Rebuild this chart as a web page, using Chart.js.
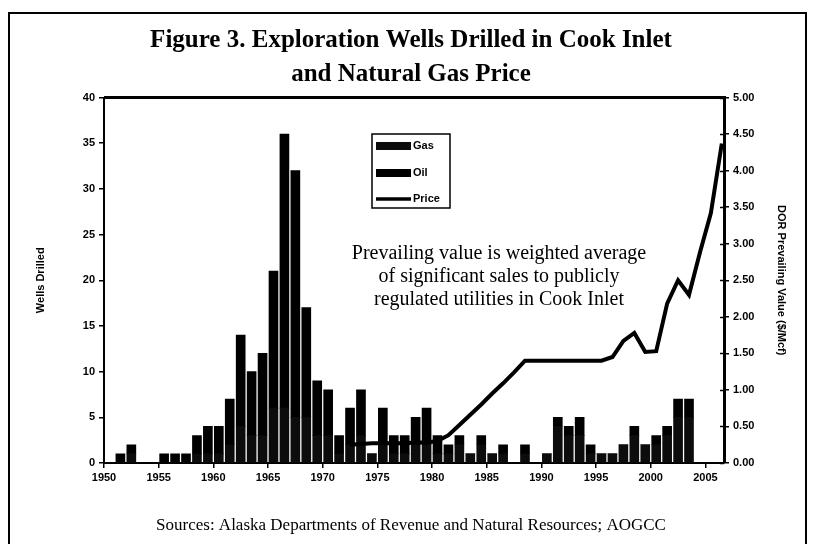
<!DOCTYPE html>
<html>
<head>
<meta charset="utf-8">
<script src="https://cdn.jsdelivr.net/npm/chart.js@4"></script>
<style>
  html, body { margin: 0; padding: 0; background: #fff; }
  #wrap { position: relative; width: 816px; height: 544px; overflow: hidden; }
  #frame { position: absolute; left: 8px; top: 12px; width: 799px; height: 560px; border: 2px solid #000; box-sizing: border-box; }
  canvas { position: absolute; left: 0; top: 0; }
</style>
</head>
<body>
<div id="wrap">
  <div id="frame"></div>
  <canvas id="chartWells" width="816" height="544"></canvas>
</div>
<script>
// wells drilled per year, split gas / oil
const years = [1950, 1951, 1952, 1953, 1954, 1955, 1956, 1957, 1958, 1959,
  1960, 1961, 1962, 1963, 1964, 1965, 1966, 1967, 1968, 1969,
  1970, 1971, 1972, 1973, 1974, 1975, 1976, 1977, 1978, 1979,
  1980, 1981, 1982, 1983, 1984, 1985, 1986, 1987, 1988, 1989,
  1990, 1991, 1992, 1993, 1994, 1995, 1996, 1997, 1998, 1999,
  2000, 2001, 2002, 2003, 2004, 2005, 2006];
const oilWells = [0, 1, 1, 0, 0, 1, 1, 1, 2, 3,
  3, 5, 10, 7, 9, 15, 30, 27, 12, 6,
  5, 2, 4, 5, 0, 4, 2, 2, 3, 4,
  2, 1, 1, 0, 1, 0, 1, 0, 1, 0,
  0, 1, 1, 2, 1, 0, 0, 0, 1, 0,
  1, 1, 2, 2, 0, 0, 0];
const gasWells = [0, 0, 1, 0, 0, 0, 0, 0, 1, 1,
  1, 2, 4, 3, 3, 6, 6, 5, 5, 3,
  3, 1, 2, 3, 1, 2, 1, 1, 2, 2,
  1, 1, 2, 1, 2, 1, 1, 0, 1, 0,
  1, 4, 3, 3, 1, 1, 1, 2, 3, 2,
  2, 3, 5, 5, 0, 0, 0];

// DOR prevailing value, $/Mcf
const priceYears = [1972, 1973, 1974, 1975, 1976, 1977, 1978, 1979, 1980, 1981,
  1982, 1983, 1984, 1985, 1986, 1987, 1988, 1989, 1990, 1991,
  1992, 1993, 1994, 1995, 1996, 1997, 1998, 1999, 2000, 2001,
  2002, 2003, 2004, 2005, 2006];
const prices = [0.25, 0.26, 0.27, 0.27, 0.27, 0.27, 0.28, 0.28, 0.30, 0.38,
  0.52, 0.66, 0.80, 0.95, 1.09, 1.24, 1.40, 1.40, 1.40, 1.40,
  1.40, 1.40, 1.40, 1.40, 1.45, 1.67, 1.78, 1.52, 1.53, 2.18,
  2.50, 2.30, 2.88, 3.42, 4.37];

const xTickYears = [1950, 1955, 1960, 1965, 1970, 1975, 1980, 1985, 1990, 1995, 2000, 2005];
const noteLines = [
  "Prevailing value is weighted average",
  "of significant sales to publicly",
  "regulated utilities in Cook Inlet"
];

const tickFont = { family: "'Liberation Sans', Arial, sans-serif", size: 11, weight: 'bold' };

// legend box, note text and top frame line
const extras = {
  id: 'extras',
  afterDatasetsDraw(chart) {
    const ctx = chart.ctx;
    const area = chart.chartArea;
    ctx.save();
    ctx.strokeStyle = '#000';
    ctx.lineWidth = 3;
    ctx.beginPath();
    ctx.moveTo(area.left, area.top);
    ctx.lineTo(area.right, area.top);
    ctx.stroke();

    // right axis ticks also cross into the plot
    const y1 = chart.scales.y1;
    ctx.lineWidth = 1.5;
    y1.ticks.forEach(t => {
      const py = Math.round(y1.getPixelForValue(t.value)) + 0.5;
      ctx.beginPath();
      ctx.moveTo(area.right - 4, py);
      ctx.lineTo(area.right, py);
      ctx.stroke();
    });

    // note
    ctx.fillStyle = '#000';
    ctx.font = "20px 'Liberation Serif', serif";
    ctx.textAlign = 'center';
    ctx.textBaseline = 'middle';
    noteLines.forEach((t, i) => ctx.fillText(t, 499, 254 + i * 23));

    // legend
    ctx.lineWidth = 1.5;
    ctx.strokeRect(372, 134, 78, 74);
    ctx.font = "bold 11px 'Liberation Sans', Arial, sans-serif";
    ctx.textAlign = 'left';
    const rows = [146, 173, 199];
    chart.data.datasets.forEach((ds, i) => {
      const y = rows[i];
      if (ds.type === 'line') {
        ctx.strokeStyle = ds.borderColor;
        ctx.lineWidth = 3.5;
        ctx.beginPath();
        ctx.moveTo(376, y);
        ctx.lineTo(411, y);
        ctx.stroke();
      } else {
        ctx.fillStyle = ds.backgroundColor;
        ctx.fillRect(376, y - 4, 35, 8);
      }
      ctx.fillStyle = '#000';
      ctx.fillText(ds.label, 413, y);
    });
    ctx.restore();
  }
};

const dataWells = {
  datasets: [
    {
      type: 'bar',
      label: 'Gas',
      data: years.map((y, i) => ({ x: y + 0.5, y: gasWells[i] })),
      backgroundColor: '#0c0c0c',
      grouped: false,
      barThickness: 9,
      yAxisID: 'y',
      order: 2
    },
    {
      type: 'bar',
      label: 'Oil',
      data: years.map((y, i) => ({ x: y + 0.5, y: oilWells[i] })),
      backgroundColor: '#000',
      grouped: false,
      barThickness: 9,
      yAxisID: 'y',
      order: 2
    },
    {
      type: 'line',
      label: 'Price',
      data: priceYears.map((y, i) => ({ x: y + 0.5, y: prices[i] })),
      borderColor: '#000',
      borderWidth: 4,
      pointRadius: 0,
      tension: 0,
      yAxisID: 'y1',
      order: 0
    }
  ]
};

const configWells = {
  type: 'bar',
  data: dataWells,
  plugins: [extras],
  options: {
    responsive: false,
    animation: false,
    layout: { padding: { left: 34, right: 28, top: 0, bottom: 0 } },
    plugins: {
      legend: { display: false },
      tooltip: { enabled: false },
      title: {
        display: true,
        text: ['Figure 3. Exploration Wells Drilled in Cook Inlet', 'and Natural Gas Price'],
        color: '#000',
        font: { family: "'Liberation Serif', serif", size: 25, weight: 'bold', lineHeight: 1.35 },
        padding: { top: 24, bottom: 6 }
      },
      subtitle: {
        display: true,
        position: 'bottom',
        text: 'Sources: Alaska Departments of Revenue and Natural Resources; AOGCC',
        color: '#000',
        font: { family: "'Liberation Serif', serif", size: 17, lineHeight: 1.2 },
        padding: { top: 6, bottom: 8 }
      }
    },
    scales: {
      x: {
        type: 'linear',
        min: 1950,
        max: 2006.7,
        offset: false,
        afterBuildTicks: s => { s.ticks = xTickYears.map(v => ({ value: v })); },
        afterFit: s => { s.height = 46.6; },
        ticks: { color: '#000', font: tickFont, maxRotation: 0, padding: 3, callback: v => String(v) },
        grid: { offset: false, drawOnChartArea: false, tickLength: 5, color: '#000', lineWidth: 1.5 },
        border: { color: '#000', width: 2 }
      },
      y: {
        position: 'left',
        stacked: true,
        min: 0,
        max: 40,
        afterFit: s => { s.width = 70; },
        ticks: { stepSize: 5, color: '#000', font: tickFont, padding: 4 },
        grid: { drawOnChartArea: false, tickLength: 5, color: '#000', lineWidth: 1.5 },
        border: { color: '#000', width: 2 },
        title: { display: true, text: 'Wells Drilled', color: '#000', font: tickFont, padding: 0 }
      },
      y1: {
        position: 'right',
        min: 0,
        max: 5,
        afterFit: s => { s.width = 64; },
        ticks: { stepSize: 0.5, color: '#000', font: tickFont, padding: 4, callback: v => v.toFixed(2) },
        grid: { drawOnChartArea: false, tickLength: 5, color: '#000', lineWidth: 1.5 },
        border: { color: '#000', width: 3 },
        title: { display: true, text: 'DOR Prevailing Value ($/Mcf)', color: '#000', font: tickFont, padding: 0 }
      }
    }
  }
};

var chartWells = new Chart(
  document.getElementById('chartWells'),
  configWells
);
</script>
</body>
</html>
